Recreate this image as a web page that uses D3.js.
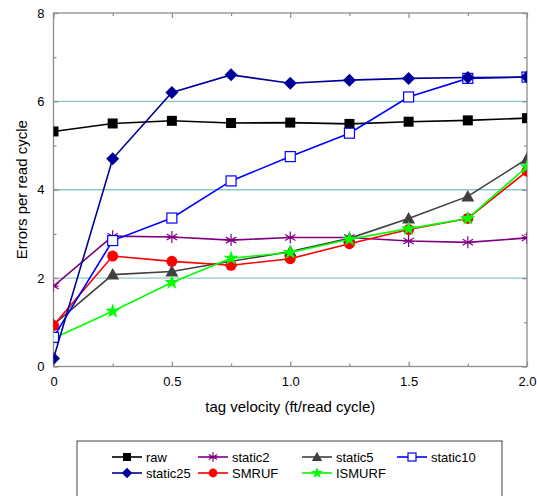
<!DOCTYPE html>
<html>
<head>
<meta charset="utf-8">
<script src="https://cdn.jsdelivr.net/npm/d3@7/dist/d3.min.js"></script>
<style>
  body { margin: 0; background: #fff; }
  svg { display: block; font-family: Arial, "Liberation Sans", sans-serif; }
</style>
</head>
<body>
<div id="chart"></div>
<script>
// velocities (ft/read cycle)
const velocities = [0, 0.25, 0.5, 0.75, 1.0, 1.25, 1.5, 1.75, 2.0];

const raw      = [5.32, 5.50, 5.56, 5.51, 5.52, 5.49, 5.54, 5.57, 5.62];
const static2  = [1.82, 2.95, 2.93, 2.86, 2.92, 2.92, 2.84, 2.81, 2.91];
const static5  = [0.95, 2.08, 2.15, 2.38, 2.60, 2.90, 3.35, 3.85, 4.70];
const static10 = [0.66, 2.85, 3.36, 4.20, 4.75, 5.28, 6.10, 6.52, 6.55];
const static25 = [0.18, 4.70, 6.20, 6.60, 6.41, 6.48, 6.52, 6.54, 6.55];
const smruf    = [0.93, 2.50, 2.38, 2.29, 2.44, 2.78, 3.10, 3.35, 4.42];
const ismurf   = [0.64, 1.25, 1.90, 2.45, 2.58, 2.88, 3.12, 3.35, 4.52];

const xTicks = [0, 0.5, 1.0, 1.5, 2.0];
const xTickLabels = ['0', '0.5', '1.0', '1.5', '2.0'];
const yTicks = [0, 2, 4, 6, 8];
const gridValues = [2, 4, 6];

const series = [
  { name: 'raw',      values: raw,      color: '#000000', marker: 'square' },
  { name: 'static2',  values: static2,  color: '#800080', marker: 'asterisk' },
  { name: 'static5',  values: static5,  color: '#404040', marker: 'triangle' },
  { name: 'static10', values: static10, color: '#0000ff', marker: 'openSquare' },
  { name: 'static25', values: static25, color: '#000099', marker: 'diamond' },
  { name: 'SMRUF',    values: smruf,    color: '#ff0000', marker: 'circle' },
  { name: 'ISMURF',   values: ismurf,   color: '#00ff00', marker: 'star' }
];

// draw order (back to front) as in the picture
const drawOrder = ['static2', 'static5', 'SMRUF', 'ISMURF', 'raw', 'static10', 'static25'];

const width = 537, height = 496;
const plot = { left: 53.5, right: 527, top: 13, bottom: 366.5 };

const svg = d3.select('#chart').append('svg')
  .attr('width', width)
  .attr('height', height);

svg.append('clipPath').attr('id', 'plot-clip')
  .append('rect')
  .attr('x', plot.left).attr('y', plot.top)
  .attr('width', plot.right - plot.left)
  .attr('height', plot.bottom - plot.top);

const x = d3.scaleLinear().domain([0, 2]).range([plot.left, plot.right]);
const y = d3.scaleLinear().domain([0, 8]).range([plot.bottom, plot.top]);

// grid lines
svg.append('g').selectAll('line')
  .data(gridValues)
  .enter().append('line')
  .attr('x1', plot.left).attr('x2', plot.right)
  .attr('y1', d => y(d)).attr('y2', d => y(d))
  .attr('stroke', '#8cc8c8')
  .attr('stroke-width', 1.3);

// frame
svg.append('rect')
  .attr('x', plot.left).attr('y', plot.top)
  .attr('width', plot.right - plot.left)
  .attr('height', plot.bottom - plot.top)
  .attr('fill', 'none')
  .attr('stroke', '#8c8c8c')
  .attr('stroke-width', 1.3);

// axes (inward ticks)
const axisStyle = g => {
  g.select('.domain').remove();
  g.selectAll('.tick line').attr('stroke', '#8c8c8c').attr('stroke-width', 1.2);
  g.selectAll('.tick text').attr('fill', '#000').attr('font-size', 13)
    .attr('font-family', 'Arial, "Liberation Sans", sans-serif');
};

svg.append('g')
  .attr('transform', `translate(0,${plot.bottom})`)
  .call(d3.axisBottom(x).tickValues(xTicks).tickFormat((d, i) => xTickLabels[i])
    .tickSizeInner(-5).tickPadding(10))
  .call(axisStyle);

svg.append('g')
  .attr('transform', `translate(0,${plot.bottom})`)
  .call(d3.axisBottom(x).tickValues(d3.range(0.25, 2, 0.5)).tickFormat('').tickSizeInner(-3))
  .call(axisStyle);

svg.append('g')
  .attr('transform', `translate(0,${plot.top})`)
  .call(d3.axisTop(x).tickValues(xTicks).tickFormat('').tickSizeInner(-5))
  .call(axisStyle);

svg.append('g')
  .attr('transform', `translate(0,${plot.top})`)
  .call(d3.axisTop(x).tickValues(d3.range(0.25, 2, 0.5)).tickFormat('').tickSizeInner(-3))
  .call(axisStyle);

svg.append('g')
  .attr('transform', `translate(${plot.left},0)`)
  .call(d3.axisLeft(y).tickValues(yTicks).tickSizeInner(-5).tickPadding(9))
  .call(axisStyle);

svg.append('g')
  .attr('transform', `translate(${plot.left},0)`)
  .call(d3.axisLeft(y).tickValues([1, 3, 5, 7]).tickFormat('').tickSizeInner(-3))
  .call(axisStyle);

svg.append('g')
  .attr('transform', `translate(${plot.right},0)`)
  .call(d3.axisRight(y).tickValues(yTicks).tickFormat('').tickSizeInner(-5))
  .call(axisStyle);

svg.append('g')
  .attr('transform', `translate(${plot.right},0)`)
  .call(d3.axisRight(y).tickValues([1, 3, 5, 7]).tickFormat('').tickSizeInner(-3))
  .call(axisStyle);

// axis titles
svg.append('text')
  .attr('x', (plot.left + plot.right) / 2)
  .attr('y', 412)
  .attr('text-anchor', 'middle')
  .attr('font-size', 15)
  .text('tag velocity (ft/read cycle)');

svg.append('text')
  .attr('transform', `translate(27,${(plot.top + plot.bottom) / 2}) rotate(-90)`)
  .attr('text-anchor', 'middle')
  .attr('font-size', 15)
  .text('Errors per read cycle');

// marker drawing helper (k scales the marker)
function drawMarker(g, type, color, k = 1) {
  const s = v => v * k;
  switch (type) {
    case 'square':
      g.append('rect').attr('x', s(-5)).attr('y', s(-5)).attr('width', s(10)).attr('height', s(10))
        .attr('fill', color);
      break;
    case 'openSquare':
      g.append('rect').attr('x', s(-5)).attr('y', s(-5)).attr('width', s(10)).attr('height', s(10))
        .attr('fill', '#fff').attr('stroke', color).attr('stroke-width', 1.2);
      break;
    case 'diamond':
      g.append('path').attr('d', `M0,${s(-6.5)}L${s(6.5)},0L0,${s(6.5)}L${s(-6.5)},0Z`).attr('fill', color);
      break;
    case 'triangle':
      g.append('path').attr('d', `M0,${s(-6.5)}L${s(6.5)},${s(5)}L${s(-6.5)},${s(5)}Z`).attr('fill', color);
      break;
    case 'circle':
      g.append('circle').attr('r', s(5.5)).attr('fill', color);
      break;
    case 'star':
      g.append('path').attr('d', d3.symbol(d3.symbolStar, 70 * k * k)()).attr('fill', color);
      break;
    case 'asterisk': {
      const r = s(6);
      const p = [0, 60, 120].map(a => {
        const t = (a + 90) * Math.PI / 180;
        return `M${-r * Math.cos(t)},${-r * Math.sin(t)}L${r * Math.cos(t)},${r * Math.sin(t)}`;
      }).join('') + `M${-r * 0.87},0L${r * 0.87},0`;
      g.append('path').attr('d', p).attr('stroke', color).attr('stroke-width', 1.2).attr('fill', 'none');
      break;
    }
  }
}

const line = d3.line()
  .x((d, i) => x(velocities[i]))
  .y(d => y(d));

const plotG = svg.append('g').attr('clip-path', 'url(#plot-clip)');
drawOrder.forEach(name => {
  const s = series.find(d => d.name === name);
  const g = plotG.append('g');
  g.append('path')
    .datum(s.values)
    .attr('d', line)
    .attr('fill', 'none')
    .attr('stroke', s.color)
    .attr('stroke-width', 1.6);
  s.values.forEach((v, i) => {
    const m = g.append('g').attr('transform', `translate(${x(velocities[i])},${y(v)})`);
    drawMarker(m, s.marker, s.color);
  });
});

// legend
svg.append('rect')
  .attr('x', 77).attr('y', 441)
  .attr('width', 425).attr('height', 70)
  .attr('fill', '#fff')
  .attr('stroke', '#404040')
  .attr('stroke-width', 1);

const legendCols = [112, 198, 302, 397];
const legendRows = [457, 473];
series.forEach((s, i) => {
  const cx = legendCols[i % 4];
  const cy = legendRows[Math.floor(i / 4)];
  const g = svg.append('g').attr('transform', `translate(${cx},${cy})`);
  g.append('line').attr('x1', 0).attr('x2', 30).attr('y1', 0).attr('y2', 0)
    .attr('stroke', s.color).attr('stroke-width', 1.6);
  const m = g.append('g').attr('transform', 'translate(15,0)');
  drawMarker(m, s.marker, s.color, 0.8);
  g.append('text')
    .attr('x', 34).attr('y', 5)
    .attr('font-size', 13)
    .text(s.name);
});
</script>
</body>
</html>
